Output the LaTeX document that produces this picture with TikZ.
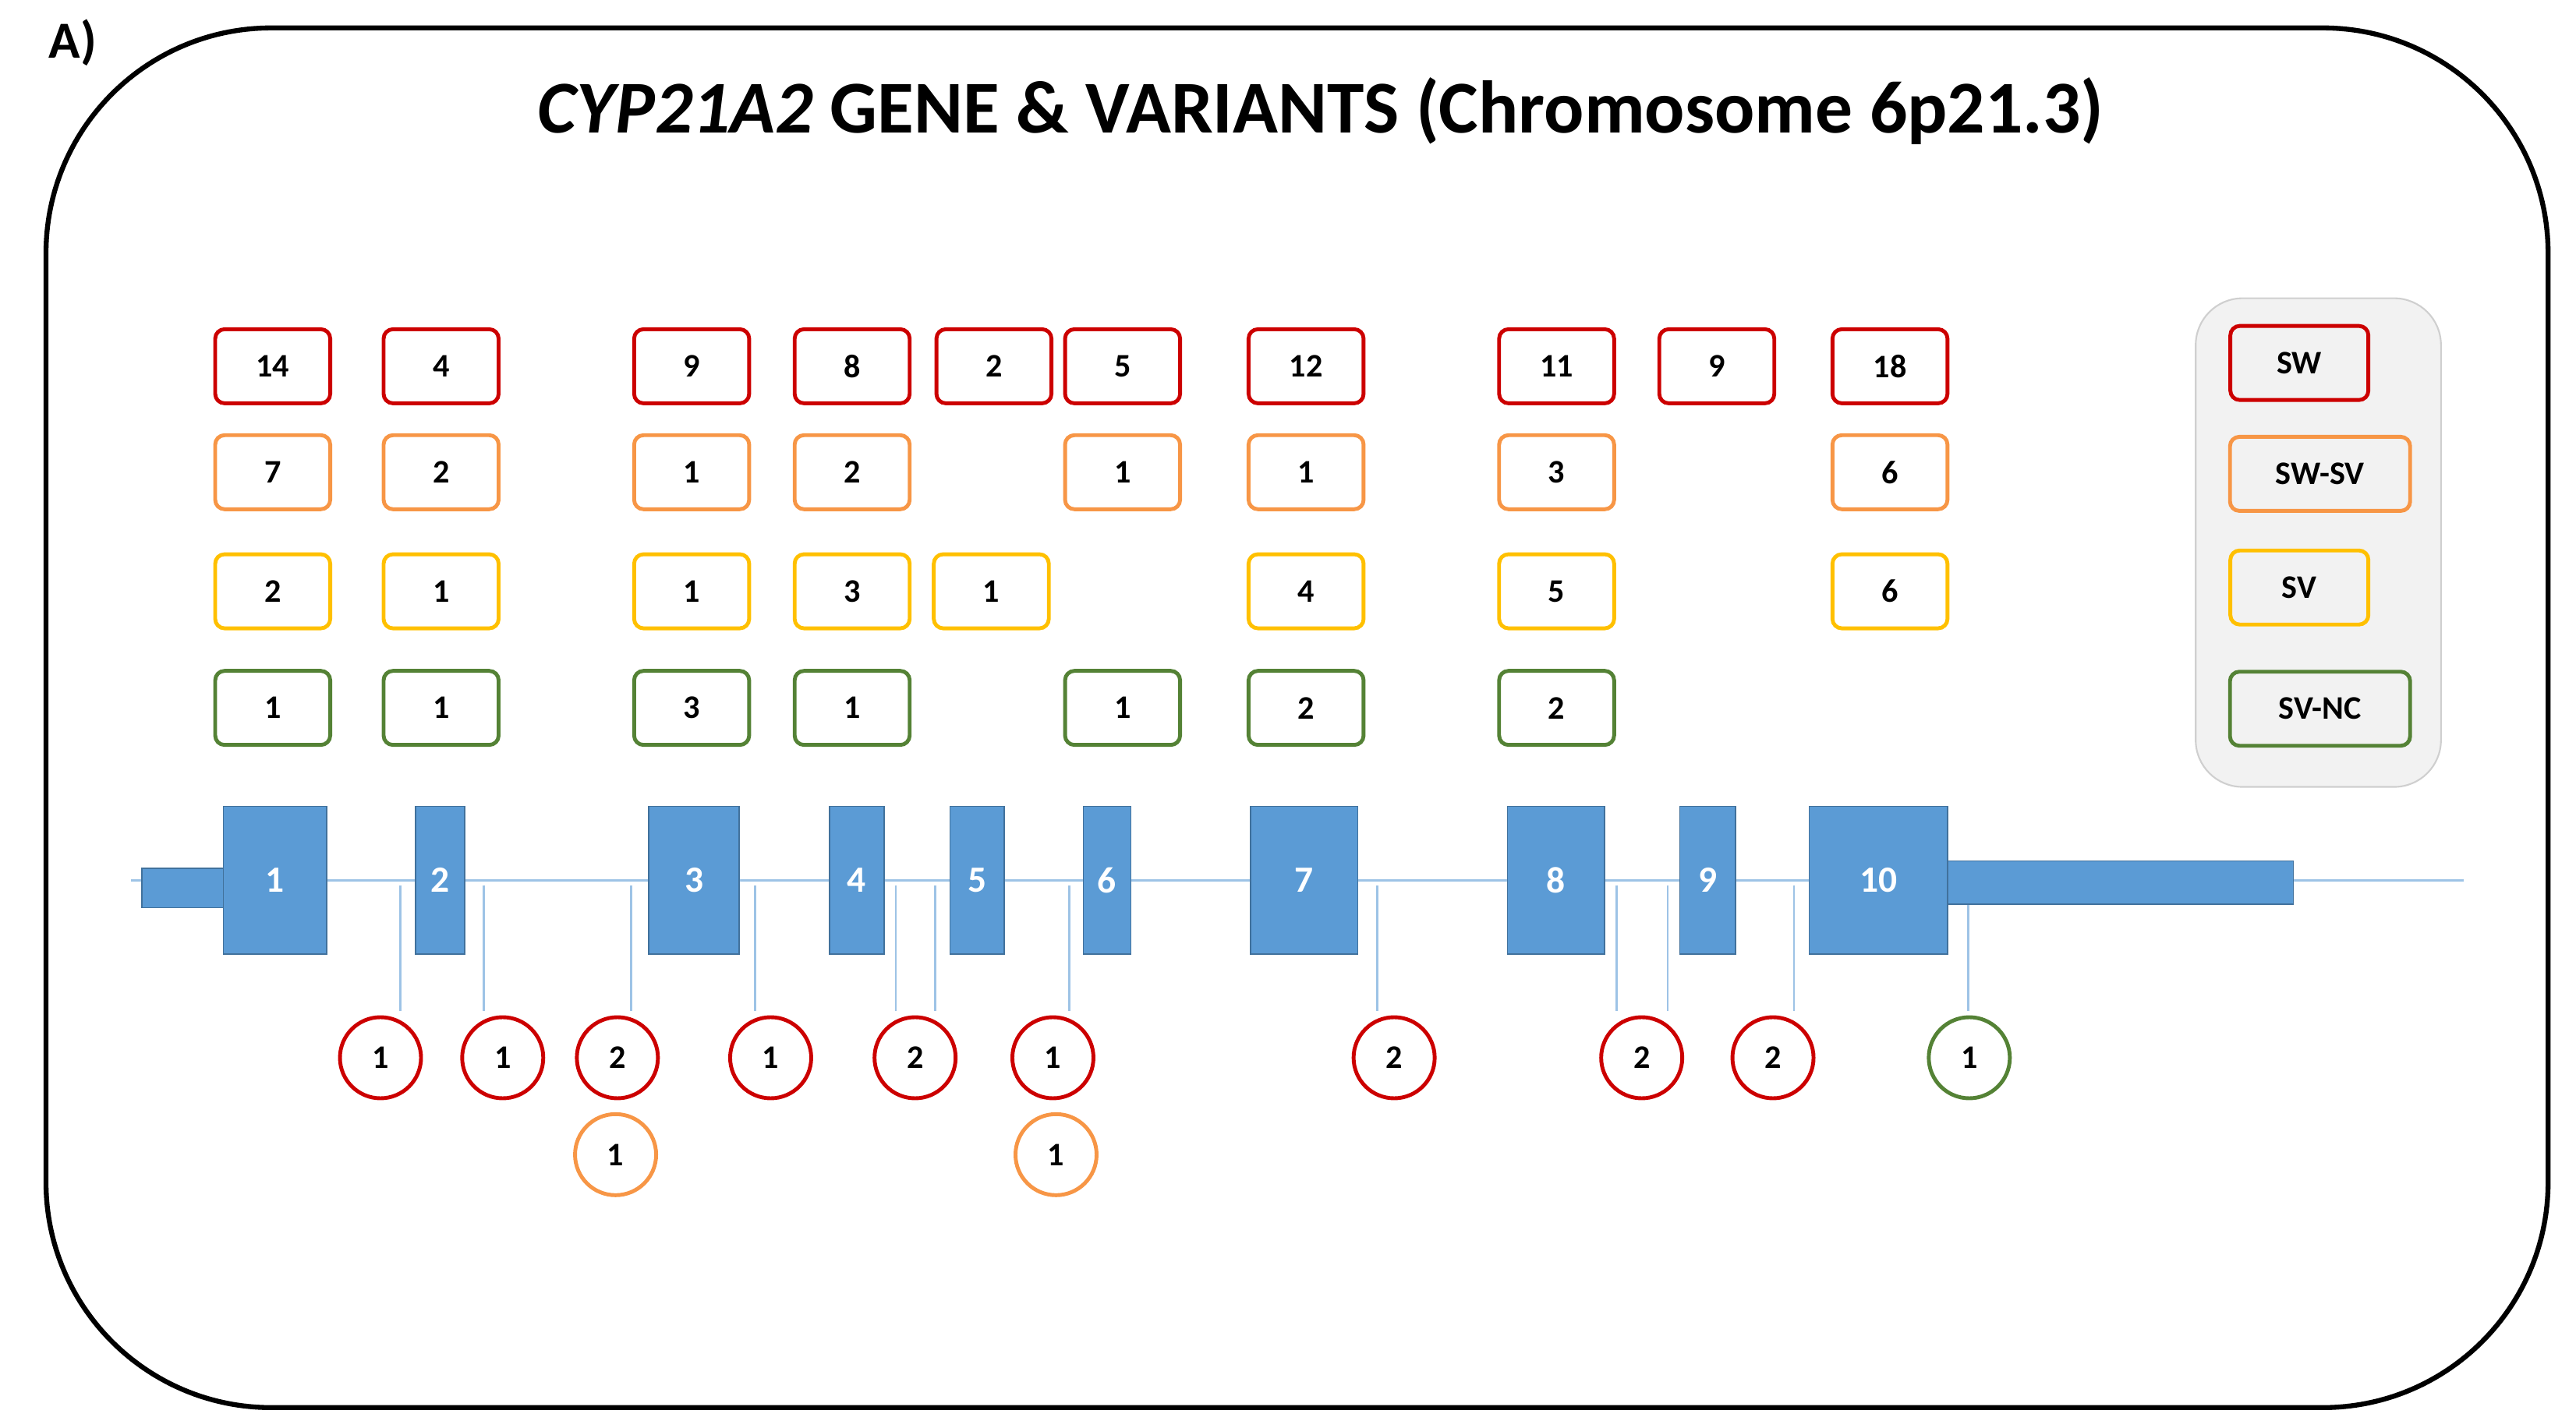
\documentclass[tikz,border=0pt]{standalone}
\usepackage{fontspec}
\setmainfont{Carlito}
\definecolor{swred}{HTML}{CC0000}
\definecolor{swsvorange}{HTML}{F79646}
\definecolor{svyellow}{HTML}{FFC000}
\definecolor{ncgreen}{HTML}{548235}
\definecolor{exonblue}{HTML}{5B9BD5}
\definecolor{exonedge}{HTML}{41719C}
\definecolor{lineblue}{HTML}{9DC3E6}
\definecolor{legendgray}{HTML}{F2F2F2}
\definecolor{legendedge}{HTML}{CFCFCF}
\begin{document}
\begin{tikzpicture}[x=0.2107mm,y=-0.2107mm,
  cnt/.style={draw,line width=1.4pt,rounded corners=1.2mm,fill=white,
    minimum width=14.75mm,minimum height=9.5mm,inner sep=0pt,
    font=\fontsize{12}{14}\selectfont\bfseries},
  sw/.style={cnt,draw=swred},
  swsv/.style={cnt,draw=swsvorange},
  sv/.style={cnt,draw=svyellow},
  nc/.style={cnt,draw=ncgreen},
  ring/.style={circle,draw,line width=1.4pt,fill=white,minimum size=10.4mm,
    inner sep=0pt,font=\fontsize{12}{14}\selectfont\bfseries},
  exon/.style={draw=exonedge,fill=exonblue,line width=0.5pt,
    minimum height=18.96mm,inner sep=0pt,text=white,
    font=\fontsize{13.5}{15}\selectfont\bfseries},
  intron/.style={draw=lineblue,line width=0.7pt,shorten >=0.6mm}]
\useasboundingbox (0,0) rectangle (1568,869);
\draw[line width=1.8pt,rounded corners=28.9mm] (28,17) rectangle (1551,857);

\node[anchor=base west,font=\fontsize{19}{21}\selectfont\bfseries] (panel) at (24,35.5) {A)};
\node[anchor=base,font=\fontsize{27.2}{30}\selectfont\bfseries] (title) at (804,80.7)
  {\textit{CYP21A2} GENE \& VARIANTS (Chromosome 6p21.3)};

% legend
\draw[fill=legendgray,draw=legendedge,line width=0.6pt,rounded corners=6mm] (1336.5,181.6) rectangle (1485.8,479.1);
\node[sw,fill=legendgray,minimum width=17.7mm] (lsw) at (1399.6,221) {SW};
\node[swsv,fill=legendgray,minimum width=23.1mm] (lswsv) at (1412.2,288.5) {SW-SV};
\node[sv,fill=legendgray,minimum width=17.7mm] (lsv) at (1399.6,357.7) {SV};
\node[nc,fill=legendgray,minimum width=23.1mm] (lnc) at (1412.2,431.5) {SV-NC};

% counts per exon
\node[sw] (sw1) at (166,223) {14};
\node[swsv] (swsv1) at (166,287.5) {7};
\node[sv] (sv1) at (166,360) {2};
\node[nc] (nc1) at (166,431) {1};

\node[sw] (sw2) at (268.5,223) {4};
\node[swsv] (swsv2) at (268.5,287.5) {2};
\node[sv] (sv2) at (268.5,360) {1};
\node[nc] (nc2) at (268.5,431) {1};

\node[sw] (sw3) at (421,223) {9};
\node[swsv] (swsv3) at (421,287.5) {1};
\node[sv] (sv3) at (421,360) {1};
\node[nc] (nc3) at (421,431) {3};

\node[sw] (sw4) at (518.7,223) {8};
\node[swsv] (swsv4) at (518.7,287.5) {2};
\node[sv] (sv4) at (518.7,360) {3};
\node[nc] (nc4) at (518.7,431) {1};

\node[sw] (sw5) at (605,223) {2};
\node[sv] (sv5) at (603.4,360) {1};

\node[sw] (sw6) at (683.3,223) {5};
\node[swsv] (swsv6) at (683.3,287.5) {1};
\node[nc] (nc6) at (683.3,431) {1};

\node[sw] (sw7) at (795,223) {12};
\node[swsv] (swsv7) at (795,287.5) {1};
\node[sv] (sv7) at (795,360) {4};
\node[nc] (nc7) at (795,431) {2};

\node[sw] (sw8) at (947.5,223) {11};
\node[swsv] (swsv8) at (947.5,287.5) {3};
\node[sv] (sv8) at (947.5,360) {5};
\node[nc] (nc8) at (947.5,431) {2};

\node[sw] (sw9) at (1045,223) {9};

\node[sw] (sw10) at (1150.4,223) {18};
\node[swsv] (swsv10) at (1150.4,287.5) {6};
\node[sv] (sv10) at (1150.4,360) {6};

% gene
\coordinate (g0) at (79.7,536);
\coordinate (g1) at (1499.7,536);
\draw[draw=lineblue,line width=1pt] (g0) -- (g1);
\draw[draw=exonedge,fill=exonblue,line width=0.5pt] (86.3,528.5) rectangle (136,552.6);
\draw[draw=exonedge,fill=exonblue,line width=0.5pt] (1185,524.2) rectangle (1396,550.6);

\node[exon,minimum width=13.27mm] (x1) at (167.5,536) {1};
\node[exon,minimum width=6.32mm] (x2) at (268,536) {2};
\node[exon,minimum width=11.59mm] (x3) at (422.5,536) {3};
\node[exon,minimum width=6.95mm] (x4) at (521.5,536) {4};
\node[exon,minimum width=6.95mm] (x5) at (594.8,536) {5};
\node[exon,minimum width=6.11mm] (x6) at (673.9,536) {6};
\node[exon,minimum width=13.7mm] (x7) at (793.9,536) {7};
\node[exon,minimum width=12.43mm] (x8) at (947.1,536) {8};
\node[exon,minimum width=7.16mm] (x9) at (1039.4,536) {9};
\node[exon,minimum width=17.7mm] (x10) at (1143.3,536) {10};

% intronic variants
\node[ring,draw=swred] (in1) at (231.6,644) {1};
\node[ring,draw=swred] (in2) at (306,644) {1};
\node[ring,draw=swred] (in3) at (375.8,644) {2};
\node[ring,draw=swred] (in4) at (469.1,644) {1};
\node[ring,draw=swred] (in5) at (557,644) {2};
\node[ring,draw=swred] (in6) at (640.9,644) {1};
\node[ring,draw=swred] (in7) at (848.6,644) {2};
\node[ring,draw=swred] (in8) at (999.3,644) {2};
\node[ring,draw=swred] (in9) at (1079.2,644) {2};
\node[ring,draw=ncgreen] (in10) at (1198.7,644) {1};
\node[ring,draw=swsvorange] (in3b) at (374.7,703) {1};
\node[ring,draw=swsvorange] (in6b) at (642.8,703) {1};

\coordinate (i1) at (243.6,539);
\coordinate (i2) at (294.4,539);
\coordinate (i3) at (384.1,539);
\coordinate (i4) at (459.7,539);
\coordinate (i5a) at (545.2,539);
\coordinate (i5b) at (569.2,539);
\coordinate (i6) at (650.9,539);
\coordinate (i7) at (838.3,539);
\coordinate (i8a) at (984,539);
\coordinate (i8b) at (1015.2,539);
\coordinate (i9) at (1092.1,539);
\coordinate (i10) at (1198,551);

\draw[intron] (i1) -- (i1 |- in1.north);
\draw[intron] (i2) -- (i2 |- in2.north);
\draw[intron] (i3) -- (i3 |- in3.north);
\draw[intron] (i4) -- (i4 |- in4.north);
\draw[intron] (i5a) -- (i5a |- in5.north);
\draw[intron] (i5b) -- (i5b |- in5.north);
\draw[intron] (i6) -- (i6 |- in6.north);
\draw[intron] (i7) -- (i7 |- in7.north);
\draw[intron] (i8a) -- (i8a |- in8.north);
\draw[intron] (i8b) -- (i8b |- in8.north);
\draw[intron] (i9) -- (i9 |- in9.north);
\draw[intron] (i10) -- (i10 |- in10.north);

\end{tikzpicture}
\end{document}
